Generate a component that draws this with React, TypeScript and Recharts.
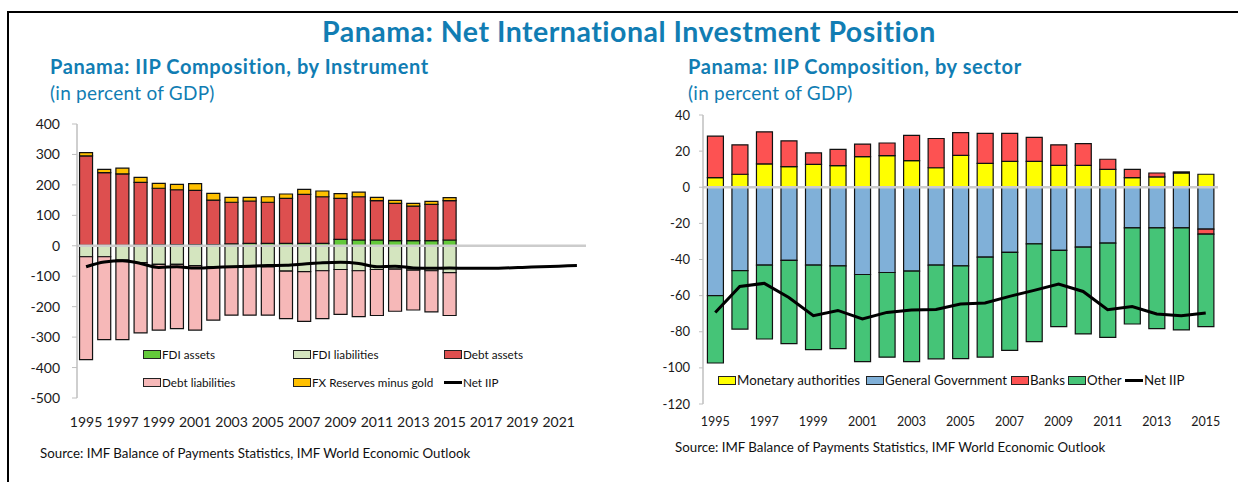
import { ComposedChart, Bar, Line, XAxis, YAxis, ReferenceLine } from "recharts";

const FONT = "Lato, 'Open Sans', sans-serif";
const BLUE = "#117db3";
const AXIS_GREY = "#bfbfbf";

// left chart: by instrument (percent of GDP)
const leftYears = ["1995", "1996", "1997", "1998", "1999", "2000", "2001", "2002", "2003", "2004", "2005", "2006", "2007", "2008", "2009", "2010", "2011", "2012", "2013", "2014", "2015", "2016", "2017", "2018", "2019", "2020", "2021", "2022"];
const fdiAssets = [1, 1, 1, 2, 3, 4, 4, 4, 6, 8, 8, 8, 8, 8, 21, 19, 19, 17, 17, 17, 19];
const fdiLiabilities = [-36, -36, -47, -55, -61, -61, -65, -69, -69, -69, -69, -83, -85, -82, -78, -82, -78, -77, -80, -82, -88];
const debtAssets = [294, 239, 235, 206, 186, 180, 178, 146, 137, 139, 135, 148, 161, 153, 135, 142, 129, 122, 113, 119, 129];
const debtLiabilities = [-338, -272, -261, -231, -216, -211, -212, -175, -159, -159, -159, -156, -163, -157, -147, -151, -151, -138, -131, -135, -141];
const fxReserves = [11, 11, 19, 17, 16, 18, 22, 22, 16, 12, 18, 14, 16, 19, 15, 15, 11, 10, 9, 10, 10];
const netIIPLeft = [-69, -53, -49, -58, -71, -69, -73, -71, -69, -67, -65, -64, -60, -56, -54, -58, -69, -67, -73, -74, -73, -74, -74, -73, -71, -69, -67, -65];
const leftTicks = [-500, -400, -300, -200, -100, 0, 100, 200, 300, 400];

// right chart: by sector (percent of GDP)
const rightYears = ["1995", "1996", "1997", "1998", "1999", "2000", "2001", "2002", "2003", "2004", "2005", "2006", "2007", "2008", "2009", "2010", "2011", "2012", "2013", "2014", "2015"];
const monetary = [5.3, 7.2, 12.9, 11.4, 12.7, 12, 16.9, 17.5, 14.7, 10.8, 17.7, 13.2, 14.3, 14.3, 12.1, 12.1, 9.9, 5.3, 5.7, 7.9, 7.2];
const generalGov = [-60, -46.2, -43.1, -40.5, -43.1, -43.5, -48.3, -47.2, -46.4, -43.1, -43.5, -38.7, -36.1, -31.3, -35, -33.2, -30.9, -22.5, -22.5, -22.5, -23.2];
const banks = [23, 16.3, 17.8, 14.3, 6.3, 9, 7, 7, 14, 16.2, 12.5, 16.6, 15.5, 13.3, 11.4, 12, 5.6, 4.6, 2.2, 0.6, -2.8];
const other = [-37.3, -32.3, -40.9, -46.1, -46.8, -45.8, -48.2, -46.9, -50.1, -51.9, -51.4, -55.3, -54.2, -54.2, -42.2, -48, -52.2, -53.2, -55.8, -56.5, -51.2];
const netIIPRight = [-69.3, -54.9, -53.2, -61, -71.1, -68.2, -72.9, -69.3, -68, -67.7, -64.7, -64.1, -60.4, -57.1, -53.6, -57.7, -67.8, -66, -70.2, -71.1, -69.6];
const rightTicks = [-120, -100, -80, -60, -40, -20, 0, 20, 40];

const leftRows = leftYears.map((year, i) => ({
  year,
  fdiAssets: fdiAssets[i] ?? null,
  fdiLiabilities: fdiLiabilities[i] ?? null,
  debtAssets: debtAssets[i] ?? null,
  debtLiabilities: debtLiabilities[i] ?? null,
  fxReserves: fxReserves[i] ?? null,
  net: netIIPLeft[i],
}));

const rightRows = rightYears.map((year, i) => ({
  year,
  monetary: monetary[i],
  generalGov: generalGov[i],
  banks: banks[i],
  other: other[i],
  net: netIIPRight[i],
}));

const C = {
  fdiAssets: "#63c93a",
  fdiLiabilities: "#d4e5bf",
  debtAssets: "#dd4f4f",
  debtLiabilities: "#f6b8b8",
  fxReserves: "#ffc000",
  monetary: "#ffff00",
  generalGov: "#80b0d8",
  banks: "#fd5252",
  other: "#45c477",
};

type Item = { label: string; color?: string; line?: boolean; x: number; y: number };

function LegendItem({ label, color, line, x, y, size }: Item & { size: number }) {
  return (
    <div style={{ position: "absolute", left: x, top: y - 10, height: 20, display: "flex", alignItems: "center", fontSize: size, color: "#111", whiteSpace: "nowrap" }}>
      {line ? (
        <span style={{ display: "inline-block", width: 18, height: 3, background: "#000", marginRight: 1 }} />
      ) : (
        <span style={{ display: "inline-block", width: 16, height: 7, background: color, border: "1px solid #222", marginRight: 1 }} />
      )}
      {label}
    </div>
  );
}

const leftLegend: Item[] = [
  { label: "FDI assets", color: C.fdiAssets, x: 143, y: 354 },
  { label: "FDI liabilities", color: C.fdiLiabilities, x: 293, y: 354 },
  { label: "Debt assets", color: C.debtAssets, x: 444, y: 354 },
  { label: "Debt liabilities", color: C.debtLiabilities, x: 143, y: 382 },
  { label: "FX Reserves minus gold", color: C.fxReserves, x: 293, y: 382 },
  { label: "Net IIP", line: true, x: 444, y: 382 },
];

const rightLegend: Item[] = [
  { label: "Monetary authorities", color: C.monetary, x: 718, y: 380 },
  { label: "General Government", color: C.generalGov, x: 866, y: 380 },
  { label: "Banks", color: C.banks, x: 1011, y: 380 },
  { label: "Other", color: C.other, x: 1068, y: 380 },
  { label: "Net IIP", line: true, x: 1125, y: 380 },
];

const barProps = { stroke: "#111", strokeWidth: 1.2, isAnimationActive: false };

const subTitle = { position: "absolute" as const, fontSize: 20, lineHeight: 1, fontWeight: 700, letterSpacing: 0.6, color: BLUE, whiteSpace: "nowrap" as const };
const unitText = { position: "absolute" as const, fontSize: 19, lineHeight: 1, letterSpacing: 0.25, color: BLUE, whiteSpace: "nowrap" as const };
const sourceText = { position: "absolute" as const, fontSize: 13.3, lineHeight: 1, color: "#111", whiteSpace: "nowrap" as const };

export default function App() {
  return (
    <div style={{ position: "absolute", left: 0, top: 0, width: 1238, height: 482, background: "#fff", overflow: "hidden", fontFamily: FONT }}>
      <div style={{ position: "absolute", left: 7, top: 11, width: 1300, height: 520, borderTop: "2.5px solid #000", borderLeft: "2.5px solid #000" }} />

      <div style={{ position: "absolute", left: 322, top: 17, fontSize: 28.5, lineHeight: 1, fontWeight: 700, letterSpacing: 0.5, color: BLUE, whiteSpace: "nowrap" }}>
        Panama: Net International Investment Position
      </div>

      <div style={{ ...subTitle, left: 50, top: 56 }}>Panama: IIP Composition, by Instrument</div>
      <div style={{ ...unitText, left: 50, top: 83 }}>(in percent of GDP)</div>

      <div style={{ ...subTitle, left: 688, top: 56 }}>Panama: IIP Composition, by sector</div>
      <div style={{ ...unitText, left: 688, top: 83 }}>(in percent of GDP)</div>

      <div style={{ position: "absolute", left: 0, top: 0 }}>
        <ComposedChart width={600} height={482} data={leftRows} stackOffset="sign" barCategoryGap="14%" margin={{ top: 124, right: 14, bottom: 54, left: 0 }}>
          <XAxis dataKey="year" interval={1} axisLine={false} tickLine={false} tickSize={0} tickMargin={19} height={30} tick={{ fontSize: 14, fill: "#1a1a1a", fontFamily: FONT }} />
          <YAxis domain={[-500, 400]} ticks={leftTicks} interval={0} width={77} axisLine={{ stroke: AXIS_GREY, strokeWidth: 1.5 }} tickLine={{ stroke: AXIS_GREY }} tickSize={5} tickMargin={12} tick={{ fontSize: 14, fill: "#1a1a1a", fontFamily: FONT }} />
          <ReferenceLine y={0} stroke="#cccccc" strokeWidth={2.5} />
          <Bar dataKey="fdiAssets" stackId="a" fill={C.fdiAssets} {...barProps} />
          <Bar dataKey="fdiLiabilities" stackId="a" fill={C.fdiLiabilities} {...barProps} />
          <Bar dataKey="debtAssets" stackId="a" fill={C.debtAssets} {...barProps} />
          <Bar dataKey="debtLiabilities" stackId="a" fill={C.debtLiabilities} {...barProps} />
          <Bar dataKey="fxReserves" stackId="a" fill={C.fxReserves} {...barProps} />
          <Line dataKey="net" type="monotone" stroke="#000" strokeWidth={3} dot={false} isAnimationActive={false} />
        </ComposedChart>
      </div>

      <div style={{ position: "absolute", left: 620, top: 0 }}>
        <ComposedChart width={618} height={482} data={rightRows} stackOffset="sign" barCategoryGap="18%" margin={{ top: 115, right: 20, bottom: 54, left: 0 }}>
          <XAxis dataKey="year" interval={1} axisLine={false} tickLine={false} tickSize={0} tickMargin={13} height={24} tick={{ fontSize: 12.5, fill: "#1a1a1a", fontFamily: FONT }} />
          <YAxis domain={[-120, 40]} ticks={rightTicks} interval={0} width={83} axisLine={{ stroke: AXIS_GREY, strokeWidth: 1.5 }} tickLine={{ stroke: AXIS_GREY }} tickSize={4} tickMargin={9} tick={{ fontSize: 13, fill: "#1a1a1a", fontFamily: FONT }} />
          <ReferenceLine y={0} stroke="#cccccc" strokeWidth={2.5} />
          <Bar dataKey="monetary" stackId="s" fill={C.monetary} {...barProps} />
          <Bar dataKey="generalGov" stackId="s" fill={C.generalGov} {...barProps} />
          <Bar dataKey="banks" stackId="s" fill={C.banks} {...barProps} />
          <Bar dataKey="other" stackId="s" fill={C.other} {...barProps} />
          <Line dataKey="net" type="linear" stroke="#000" strokeWidth={3} dot={false} isAnimationActive={false} />
        </ComposedChart>
      </div>

      {leftLegend.map((it) => (
        <LegendItem key={it.label + it.x} {...it} size={11.7} />
      ))}
      {rightLegend.map((it) => (
        <LegendItem key={it.label + it.x} {...it} size={13.3} />
      ))}

      <div style={{ ...sourceText, left: 40, top: 447 }}>Source: IMF Balance of Payments Statistics, IMF World Economic Outlook</div>
      <div style={{ ...sourceText, left: 675, top: 441 }}>Source: IMF Balance of Payments Statistics, IMF World Economic Outlook</div>
    </div>
  );
}
